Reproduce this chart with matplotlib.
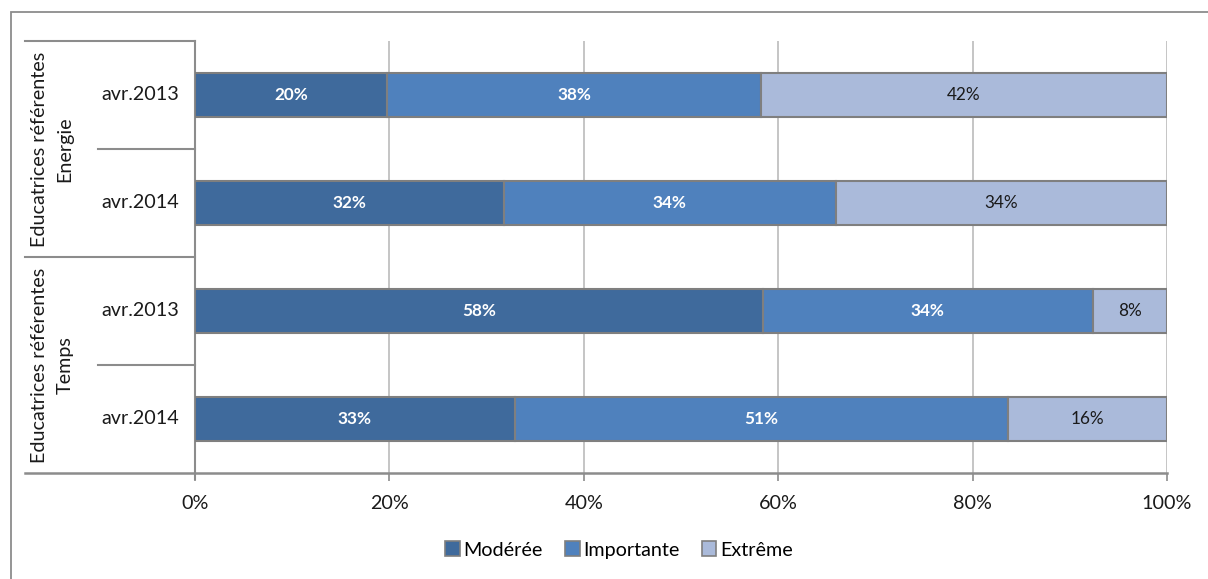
import matplotlib
matplotlib.use("Agg")
import matplotlib.pyplot as plt
from matplotlib.patches import Rectangle, Patch
from matplotlib.lines import Line2D

plt.rcParams['font.family'] = ['Lato', 'DejaVu Sans']

# Data (top to bottom)
groups = [["Educatrices référentes", "Energie"], ["Educatrices référentes", "Temps"]]
periods = ["avr.2013", "avr.2014", "avr.2013", "avr.2014"]
series = ["Modérée", "Importante", "Extrême"]
moderee = [19.8, 31.8, 58.4, 32.9]
importante = [38.4, 34.1, 34.0, 50.7]
extreme = [41.8, 34.1, 7.6, 16.4]
xticks = [0, 20, 40, 60, 80, 100]

colors = ["#3F6A9C", "#4F81BD", "#AABADA"]
label_colors = ["white", "white", "#1a1a1a"]
label_weights = ["bold", "bold", "normal"]

W, H = 1208, 579
fig = plt.figure(figsize=(W / 100, H / 100), dpi=100)

# outer chart border (cut off at right and bottom)
fig.patches.append(Rectangle((11 / W, -0.05), 1.2, 1 - 12 / H + 0.05,
                             transform=fig.transFigure, fill=False,
                             edgecolor="#8c8c8c", linewidth=1.3))

x0, x1, ytop, ybot = 195, 1167, 41, 473
ax = fig.add_axes([x0 / W, 1 - ybot / H, (x1 - x0) / W, (ybot - ytop) / H])

FS = 14.2
n = len(periods)
ypos = list(range(n))[::-1]
left = [0] * n
for vals, col, lc, lw, name in zip([moderee, importante, extreme], colors,
                                   label_colors, label_weights, series):
    bars = ax.barh(ypos, vals, left=left, height=0.4, color=col,
                   edgecolor="#7f7f7f", linewidth=1.5, label=name, zorder=3)
    for b, v, l in zip(bars, vals, left):
        ax.text(l + v / 2, b.get_y() + b.get_height() / 2, f"{round(v)}%",
                ha="center", va="center", color=lc, fontweight=lw,
                fontsize=12.3, zorder=4)
    left = [a + b for a, b in zip(left, vals)]

ax.set_xlim(0, 100)
ax.set_ylim(-0.5, n - 0.5)
ax.set_xticks(xticks)
ax.set_xticklabels([f"{t}%" for t in xticks], fontsize=FS, color="#1a1a1a")
ax.tick_params(axis="x", length=6, width=1.2, color="#8c8c8c", pad=10)
ax.set_yticks([])
ax.xaxis.grid(True, color="#c0c0c0", linewidth=1.3, zorder=0)
ax.set_axisbelow(True)
for s in ["top", "right"]:
    ax.spines[s].set_visible(False)
ax.spines["left"].set_color("#8c8c8c")
ax.spines["left"].set_linewidth(1.5)
ax.spines["bottom"].set_visible(False)

# category axis (multi-level) drawn in axes-fraction x, data y
trans = ax.get_yaxis_transform()
outer_x = (25 - x0) / (x1 - x0)
inner_x = (98 - x0) / (x1 - x0)
gc = "#8c8c8c"
ax.add_line(Line2D([outer_x, 1], [-0.5, -0.5], transform=trans, color=gc,
                   linewidth=1.8, clip_on=False, zorder=5))
ax.add_line(Line2D([0, 0], [-0.5, -0.56], transform=trans, color=gc,
                   linewidth=1.5, clip_on=False))
for yb in [n - 0.5, 1.5]:
    ax.add_line(Line2D([outer_x, 0], [yb, yb], transform=trans, color=gc,
                       linewidth=1.5, clip_on=False))
for yb in [2.5, 0.5]:
    ax.add_line(Line2D([inner_x, 0], [yb, yb], transform=trans, color=gc,
                       linewidth=1.5, clip_on=False))

mid_x = (140 - x0) / (x1 - x0)
for y, p in zip(ypos, periods):
    ax.text(mid_x, y, p, transform=trans, ha="center", va="center",
            fontsize=FS, color="#1a1a1a")
line_x = [(40 - x0) / (x1 - x0), (65 - x0) / (x1 - x0)]
for gi, g in enumerate(groups):
    yc = (ypos[2 * gi] + ypos[2 * gi + 1]) / 2
    for lx, txt in zip(line_x, g):
        ax.text(lx, yc, txt, transform=trans, ha="center", va="center",
                rotation=90, fontsize=FS, color="#1a1a1a")

handles = [Patch(facecolor=c, edgecolor="#7f7f7f", linewidth=1.2) for c in colors]
fig.legend(handles, series, loc="center", bbox_to_anchor=(619 / W, 1 - 550 / H),
           ncol=3, frameon=False, fontsize=FS, handlelength=0.75,
           handleheight=0.75, handletextpad=0.2, columnspacing=1.1)

fig.savefig("out.png", dpi=100)
